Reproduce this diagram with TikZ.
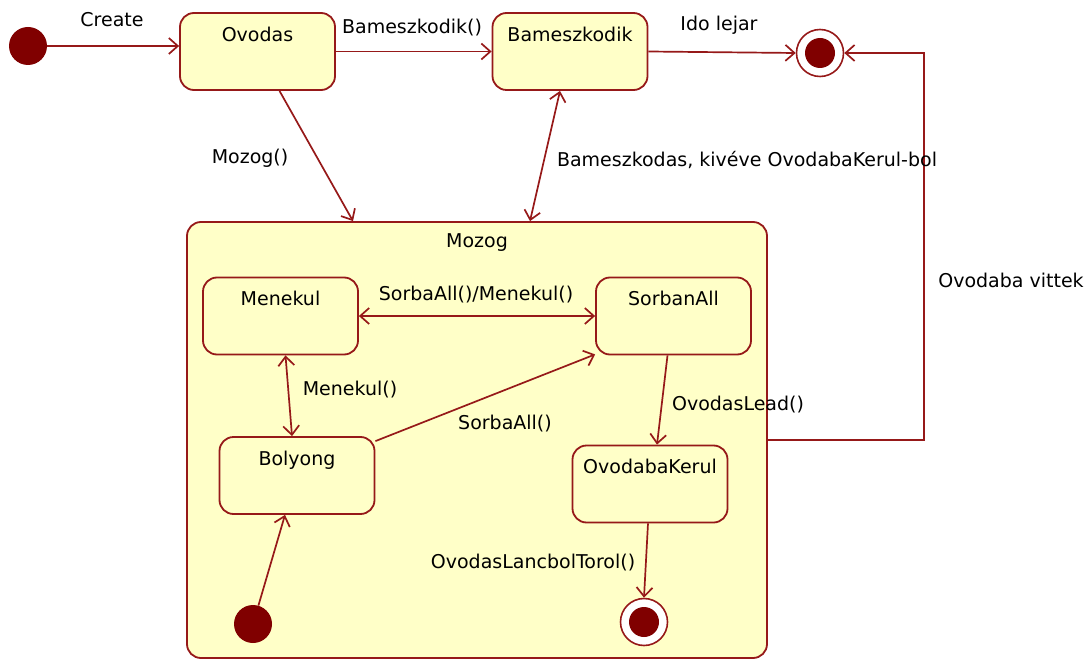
\documentclass[tikz,border=0pt]{standalone}
\usepackage{fontspec}
\setmainfont{DejaVu Sans}
\usetikzlibrary{arrows.meta}
\definecolor{edge}{RGB}{150,25,25}
\definecolor{dotc}{RGB}{128,0,0}
\definecolor{statefill}{RGB}{255,255,200}
\begin{document}
\begin{tikzpicture}[x=1pt,y=-1pt,
  font=\fontsize{19}{22}\selectfont,
  every label/.style={font=\fontsize{19}{22}\selectfont, inner sep=0pt},
  state/.style={draw=edge, fill=statefill, line width=1.8pt, rounded corners=14pt,
    minimum width=155pt, minimum height=77pt, inner sep=0pt},
  initst/.style={circle, fill=dotc, minimum size=38pt, inner sep=0pt},
  finalst/.style={circle, draw=edge, fill=white, line width=1.6pt, minimum size=47pt, inner sep=0pt,
    path picture={\fill[dotc] (path picture bounding box.center) circle (15pt);}},
  tr/.style={draw=edge, line width=1.7pt, -{Straight Barb[length=9pt,width=16pt]}},
  trboth/.style={draw=edge, line width=1.7pt, {Straight Barb[length=9pt,width=16pt]}-{Straight Barb[length=9pt,width=16pt]}},
  lbl/.style={inner sep=1pt, text=black}]
\useasboundingbox (0,0) rectangle (1091,660);

% composite state
\node[state, minimum width=580pt, minimum height=436pt,
  label={[anchor=north, yshift=-12pt]north:Mozog}] (mozog) at (477,440) {};

% top-level states
\node[initst] (init) at (28,46) {};
\node[state, label={[anchor=north, yshift=-15pt]north:Ovodas}] (ovodas) at (257.5,51.5) {};
\node[state, label={[anchor=north, yshift=-15pt]north:Bameszkodik}] (bam) at (570,51.5) {};
\node[finalst] (fin) at (820,53) {};

% substates
\node[state, label={[anchor=north, yshift=-14pt]north:Menekul}] (menekul) at (280.5,316) {};
\node[state, label={[anchor=north, yshift=-14pt]north:SorbanAll}] (sorban) at (673.5,316) {};
\node[state, label={[anchor=north, yshift=-15pt]north:Bolyong}] (bolyong) at (297,475.5) {};
\node[state, label={[anchor=north, yshift=-14pt]north:OvodabaKerul}] (ovk) at (650,484) {};
\node[initst] (init2) at (253,624) {};
\node[finalst] (fin2) at (644,622) {};

\coordinate (turn) at (924,53);

% transitions
\draw[tr] (init) -- (init -| ovodas.west);
\draw[tr] (ovodas.east) -- (bam.west);
\draw[tr] (bam.east) -- (fin.west);
\draw[tr] ([xshift=22pt]ovodas.south) -- ([xshift=-124pt]mozog.north);
\draw[trboth] ([xshift=-10pt]bam.south) -- ([xshift=53pt]mozog.north);
\draw[tr] (mozog.east) -| (turn) -- (fin.east);

\draw[trboth] (menekul.east) -- (sorban.west);
\draw[trboth] ([xshift=5pt]menekul.south) -- ([xshift=-5pt]bolyong.north);
\draw[tr] ([yshift=-5pt]bolyong.north east) -- ([yshift=1pt]sorban.south west);
\draw[tr] ([xshift=-6pt]sorban.south) -- ([xshift=7pt]ovk.north);
\draw[tr] (init2) -- ([xshift=-12pt]bolyong.south);
\draw[tr] ([xshift=-2pt]ovk.south) -- (fin2.north);

% transition labels
\node[lbl] (lCreate) at (112,20) {Create};
\node[lbl] (lBamk) at (412,28) {Bameszkodik()};
\node[lbl] (lIdo) at (719,25) {Ido lejar};
\node[lbl] (lMozog) at (250,158) {Mozog()};
\node[lbl] (lBamd) at (747,160) {Bameszkodas, kivéve OvodabaKerul-bol};
\node[lbl] (lVittek) at (1011,280) {Ovodaba vittek};
\node[lbl] (lSM) at (476,295) {SorbaAll()/Menekul()};
\node[lbl] (lMen) at (350,390) {Menekul()};
\node[lbl] (lSorba) at (505,424) {SorbaAll()};
\node[lbl] (lLead) at (738,405) {OvodasLead()};
\node[lbl] (lTorol) at (533,563) {OvodasLancbolTorol()};
\end{tikzpicture}
\end{document}
